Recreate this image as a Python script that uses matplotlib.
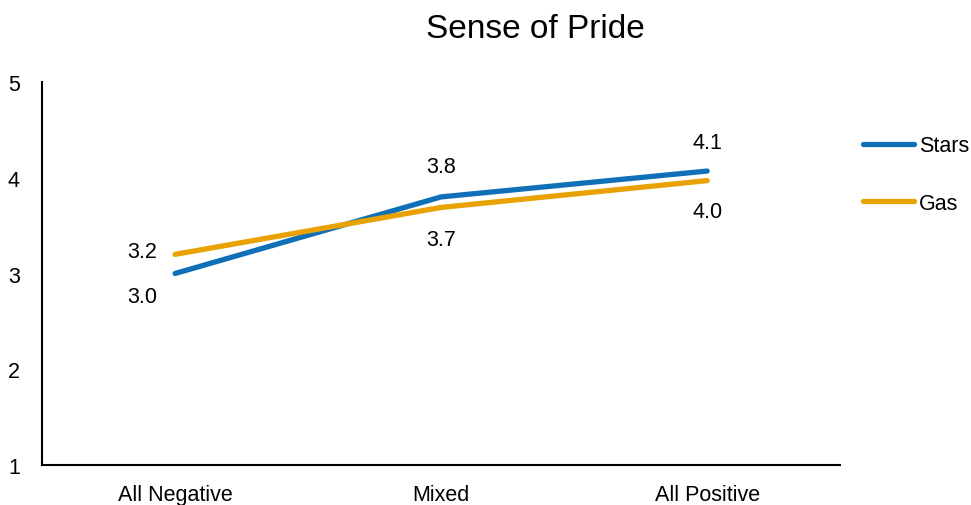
import matplotlib.pyplot as plt

plt.rcParams["font.family"] = ["Liberation Sans", "DejaVu Sans"]

categories = ["All Negative", "Mixed", "All Positive"]
stars = [3.0, 3.8, 4.07]
gas = [3.2, 3.69, 3.97]

# label offsets in pixels (dx, dy) for each point
stars_offsets = [(-33, -23), (0, 30), (0, 29)]
gas_offsets = [(-33, 3), (0, -32), (0, -31)]

blue = "#0F70B7"
orange = "#E8A202"
fs = 15.5

fig = plt.figure(figsize=(9.71, 5.06), dpi=100)
ax = fig.add_axes([0.0433, 0.079, 0.822, 0.757])

x = list(range(len(categories)))
ax.plot(x, stars, color=blue, lw=3.8, solid_capstyle="round", label="Stars")
ax.plot(x, gas, color=orange, lw=3.8, solid_capstyle="round", label="Gas")

for xi, v, off in zip(x, stars, stars_offsets):
    ax.annotate(f"{v:.1f}", (xi, v), xytext=off, textcoords="offset pixels",
                ha="center", va="center", fontsize=fs)
for xi, v, off in zip(x, gas, gas_offsets):
    ax.annotate(f"{v:.1f}", (xi, v), xytext=off, textcoords="offset pixels",
                ha="center", va="center", fontsize=fs)

ax.set_xlim(-0.5, 2.5)
ax.set_ylim(1, 5)
ax.set_yticks([1, 2, 3, 4, 5])
ax.set_xticks(x)
ax.set_xticklabels(categories)
ax.tick_params(axis="both", length=0, labelsize=fs)
ax.tick_params(axis="y", pad=16)
ax.tick_params(axis="x", pad=13.5)

for side in ["top", "right"]:
    ax.spines[side].set_visible(False)
for side in ["left", "bottom"]:
    ax.spines[side].set_linewidth(1.5)
    ax.spines[side].set_color("black")

fig.text(0.551, 0.941, "Sense of Pride", ha="center", va="center", fontsize=24)

ax.legend(loc="upper left", bbox_to_anchor=(1.004, 0.912), frameon=False,
          fontsize=fs, handlelength=2.4, handletextpad=0.2, labelspacing=1.7)

fig.savefig("out.png", dpi=100)
